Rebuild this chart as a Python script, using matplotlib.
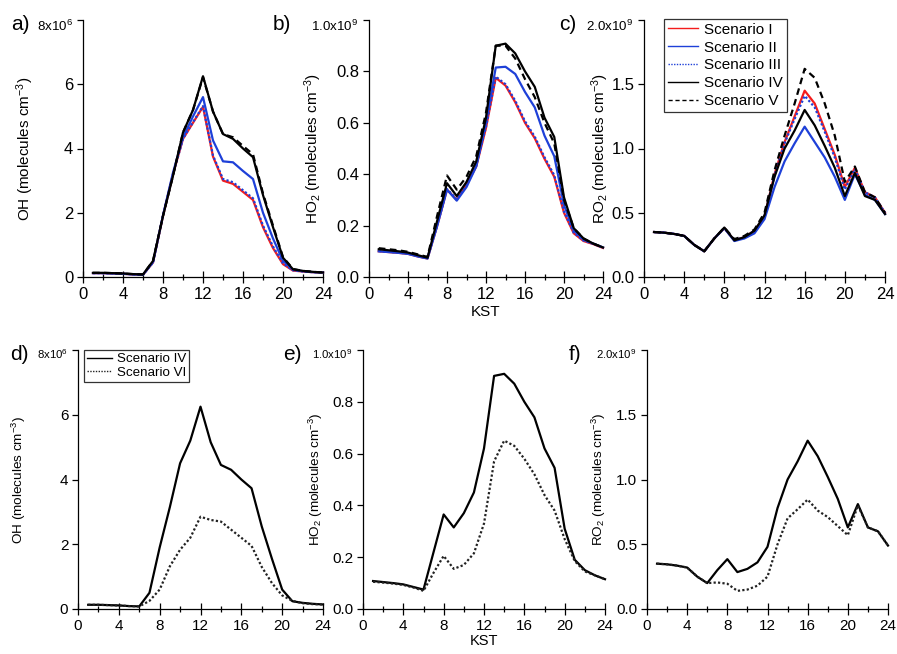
import matplotlib
matplotlib.use("Agg")
import matplotlib.pyplot as plt
from matplotlib.ticker import FixedLocator

plt.rcParams['font.family'] = ['Liberation Sans', 'DejaVu Sans']
plt.rcParams['mathtext.fontset'] = 'custom'
plt.rcParams['mathtext.rm'] = 'Liberation Sans'
plt.rcParams['mathtext.it'] = 'Liberation Sans:italic'
plt.rcParams['mathtext.bf'] = 'Liberation Sans:bold'

hours = list(range(1, 25))

# OH (x1e6 molecules cm-3)
oh_I   = [0.12,0.12,0.11,0.10,0.08,0.07,0.45,1.90,3.20,4.30,4.80,5.30,3.75,3.00,2.90,2.65,2.40,1.55,0.90,0.40,0.20,0.17,0.15,0.14]
oh_II  = [0.12,0.12,0.11,0.10,0.08,0.07,0.46,1.92,3.25,4.35,5.00,5.60,4.25,3.60,3.57,3.30,3.05,2.00,1.20,0.50,0.22,0.18,0.15,0.14]
oh_III = [0.12,0.12,0.11,0.10,0.08,0.07,0.45,1.90,3.20,4.30,4.82,5.32,3.78,3.05,2.95,2.70,2.45,1.60,0.95,0.42,0.21,0.17,0.15,0.14]
oh_IV  = [0.13,0.13,0.12,0.11,0.09,0.08,0.50,1.90,3.15,4.50,5.20,6.25,5.15,4.45,4.30,4.00,3.73,2.55,1.55,0.60,0.24,0.19,0.16,0.14]
oh_V   = [0.13,0.13,0.12,0.11,0.09,0.08,0.50,1.90,3.15,4.50,5.20,6.22,5.15,4.45,4.35,4.08,3.82,2.60,1.60,0.62,0.25,0.19,0.16,0.14]
oh_VI  = [0.13,0.13,0.12,0.11,0.09,0.08,0.25,0.60,1.32,1.83,2.20,2.85,2.75,2.70,2.45,2.20,1.95,1.30,0.80,0.42,0.25,0.18,0.15,0.14]

# HO2 (x1e9 molecules cm-3)
ho2_I   = [0.100,0.097,0.094,0.090,0.080,0.072,0.200,0.340,0.300,0.360,0.430,0.580,0.775,0.745,0.680,0.600,0.540,0.460,0.390,0.250,0.170,0.140,0.128,0.113]
ho2_II  = [0.100,0.097,0.094,0.090,0.080,0.072,0.200,0.340,0.297,0.350,0.430,0.600,0.815,0.818,0.790,0.720,0.660,0.550,0.470,0.280,0.180,0.145,0.130,0.115]
ho2_III = [0.101,0.098,0.095,0.091,0.081,0.073,0.202,0.342,0.303,0.364,0.435,0.585,0.780,0.750,0.686,0.606,0.546,0.466,0.396,0.255,0.172,0.142,0.129,0.114]
ho2_IV  = [0.108,0.104,0.100,0.095,0.085,0.075,0.220,0.365,0.315,0.370,0.450,0.620,0.900,0.908,0.870,0.800,0.740,0.620,0.545,0.310,0.190,0.150,0.130,0.115]
ho2_V   = [0.112,0.108,0.104,0.098,0.088,0.078,0.240,0.395,0.340,0.390,0.470,0.640,0.900,0.900,0.850,0.770,0.700,0.600,0.520,0.300,0.190,0.150,0.130,0.115]
ho2_VI  = [0.105,0.102,0.098,0.093,0.083,0.070,0.140,0.205,0.155,0.170,0.215,0.330,0.570,0.650,0.630,0.580,0.520,0.440,0.380,0.270,0.185,0.145,0.130,0.115]

# RO2 (x1e9 molecules cm-3)
ro2_I   = [0.35,0.345,0.335,0.32,0.25,0.20,0.30,0.38,0.285,0.31,0.36,0.47,0.80,1.05,1.25,1.45,1.35,1.15,0.95,0.70,0.85,0.66,0.62,0.50]
ro2_II  = [0.35,0.345,0.335,0.32,0.25,0.20,0.30,0.38,0.280,0.30,0.34,0.45,0.70,0.90,1.04,1.17,1.05,0.93,0.78,0.60,0.80,0.64,0.60,0.49]
ro2_III = [0.35,0.345,0.335,0.32,0.25,0.20,0.30,0.38,0.285,0.31,0.36,0.47,0.79,1.04,1.23,1.41,1.32,1.13,0.93,0.68,0.84,0.66,0.62,0.50]
ro2_IV  = [0.35,0.345,0.335,0.32,0.25,0.20,0.30,0.385,0.285,0.31,0.36,0.48,0.78,1.00,1.14,1.30,1.18,1.02,0.85,0.63,0.81,0.63,0.60,0.49]
ro2_V   = [0.35,0.345,0.335,0.32,0.25,0.20,0.30,0.385,0.295,0.32,0.37,0.50,0.83,1.10,1.35,1.62,1.55,1.35,1.10,0.74,0.86,0.66,0.62,0.50]
ro2_VI  = [0.35,0.345,0.335,0.32,0.25,0.20,0.205,0.195,0.14,0.15,0.18,0.25,0.50,0.70,0.77,0.845,0.76,0.71,0.64,0.57,0.80,0.63,0.60,0.49]

x_major = [0, 4, 8, 12, 16, 20, 24]
x_minor = [2, 6, 10, 14, 18, 22]
oh_ticks = [0, 2, 4, 6]
oh_lbls = ['0', '2', '4', '6']
oh_top = (8, '8x10$^{6}$')
ho2_ticks = [0, 0.2, 0.4, 0.6, 0.8]
ho2_lbls = ['0.0', '0.2', '0.4', '0.6', '0.8']
ho2_top = (1.0, '1.0x10$^{9}$')
ro2_ticks = [0, 0.5, 1.0, 1.5]
ro2_lbls = ['0.0', '0.5', '1.0', '1.5']
ro2_top = (2.0, '2.0x10$^{9}$')

RED = '#f41c1c'
BLUE = '#1e40d8'

fig = plt.figure(figsize=(8.97, 6.54), dpi=100)
W, H = 897.0, 654.0

def make_ax(x0, x1, ytop, ybot):
    return fig.add_axes([x0 / W, 1 - ybot / H, (x1 - x0) / W, (ybot - ytop) / H])

ax_a = make_ax(83, 323, 20, 277)
ax_b = make_ax(369, 603, 20, 277)
ax_c = make_ax(644, 885, 20, 277)
ax_d = make_ax(78, 323, 350, 609)
ax_e = make_ax(363, 605, 350, 609)
ax_f = make_ax(647, 888, 350, 609)

def style(ax, yticks, ylabels, top, ylab, fs_tick, fs_top, fs_lab, labx, base_off):
    for s in ['top', 'right']:
        ax.spines[s].set_visible(False)
    for s in ['left', 'bottom']:
        ax.spines[s].set_linewidth(0.9)
    ax.set_xlim(0, 24)
    ax.xaxis.set_major_locator(FixedLocator(x_major))
    ax.xaxis.set_minor_locator(FixedLocator(x_minor))
    ax.set_ylim(yticks[0], top[0])
    ax.set_yticks(yticks + [top[0]])
    ax.set_yticklabels(ylabels + [''])
    ax.tick_params(axis='x', which='major', direction='inout', length=8.5, width=0.9,
                   labelsize=fs_tick, pad=3)
    ax.tick_params(axis='x', which='minor', direction='inout', length=4.3, width=0.9)
    ax.tick_params(axis='y', which='major', direction='out', length=4, width=0.9,
                   labelsize=fs_tick, pad=3)
    ax.annotate(top[1], xy=(0, top[0]), xycoords=('axes fraction', 'data'),
                xytext=(-7.5, base_off), textcoords='offset points',
                ha='right', va='baseline', fontsize=fs_top, annotation_clip=False)
    ax.set_ylabel(ylab, fontsize=fs_lab, va='center')
    ax.yaxis.set_label_coords(labx, 0.5)

lw = 1.6
for ax, I, II, III, IV, V in [(ax_a, oh_I, oh_II, oh_III, oh_IV, oh_V),
                               (ax_b, ho2_I, ho2_II, ho2_III, ho2_IV, ho2_V),
                               (ax_c, ro2_I, ro2_II, ro2_III, ro2_IV, ro2_V)]:
    ax.plot(hours, I, color=RED, lw=lw, label='Scenario I', clip_on=False)
    ax.plot(hours, II, color=BLUE, lw=lw, label='Scenario II', clip_on=False)
    ax.plot(hours, III, color=BLUE, lw=lw, ls=(0, (1, 1)), label='Scenario III', clip_on=False)
    ax.plot(hours, IV, color='black', lw=lw, label='Scenario IV', clip_on=False)
    ax.plot(hours, V, color='black', lw=lw, ls=(0, (3, 2)), label='Scenario V', clip_on=False)

style(ax_a, oh_ticks, oh_lbls, oh_top, 'OH (molecules cm$^{-3}$)', 12, 9.6, 11, -0.242, -7.7)
style(ax_b, ho2_ticks, ho2_lbls, ho2_top, 'HO$_2$ (molecules cm$^{-3}$)', 12, 9.6, 11, -0.24, -7.7)
style(ax_c, ro2_ticks, ro2_lbls, ro2_top, 'RO$_2$ (molecules cm$^{-3}$)', 12, 9.6, 11, -0.18, -7.7)
ax_b.set_xlabel('KST', fontsize=11, labelpad=2)

leg = ax_c.legend(loc='upper left', bbox_to_anchor=(0.083, 1.004), fontsize=11,
                  frameon=True, fancybox=False, edgecolor='black', handlelength=1.95,
                  borderpad=0.25, labelspacing=0.25, handletextpad=0.45, borderaxespad=0)
leg.get_frame().set_linewidth(0.9)
for h in leg.get_lines():
    h.set_linewidth(1.0)

for ax, IV, VI in [(ax_d, oh_IV, oh_VI), (ax_e, ho2_IV, ho2_VI), (ax_f, ro2_IV, ro2_VI)]:
    ax.plot(hours, IV, color='black', lw=lw, label='Scenario IV', clip_on=False)
    ax.plot(hours, VI, color='#222222', lw=lw, ls=(0, (1, 1)), label='Scenario VI', clip_on=False)

style(ax_d, oh_ticks, oh_lbls, oh_top, 'OH (molecules cm$^{-3}$)', 11, 8.2, 9.7, -0.241, -6.4)
style(ax_e, ho2_ticks, ho2_lbls, ho2_top, 'HO$_2$ (molecules cm$^{-3}$)', 11, 8.2, 9.7, -0.194, -6.4)
style(ax_f, ro2_ticks, ro2_lbls, ro2_top, 'RO$_2$ (molecules cm$^{-3}$)', 11, 8.2, 9.7, -0.2, -6.4)
ax_e.set_xlabel('KST', fontsize=10.5, labelpad=1)

leg2 = ax_d.legend(loc='upper left', bbox_to_anchor=(0.0245, 1.0), fontsize=9.6,
                   frameon=True, fancybox=False, edgecolor='black', handlelength=1.87,
                   borderpad=0.22, labelspacing=0.08, handletextpad=0.37, borderaxespad=0)
leg2.get_frame().set_linewidth(0.9)
for h in leg2.get_lines():
    h.set_linewidth(1.0)

for txt, x, y in [('a)', 11, 25), ('b)', 273, 25), ('c)', 559, 25),
                  ('d)', 10, 354), ('e)', 283, 354), ('f)', 569, 354)]:
    fig.text(x / W, 1 - y / H, txt, fontsize=15, ha='left', va='center')

fig.savefig('out.png', dpi=100)
